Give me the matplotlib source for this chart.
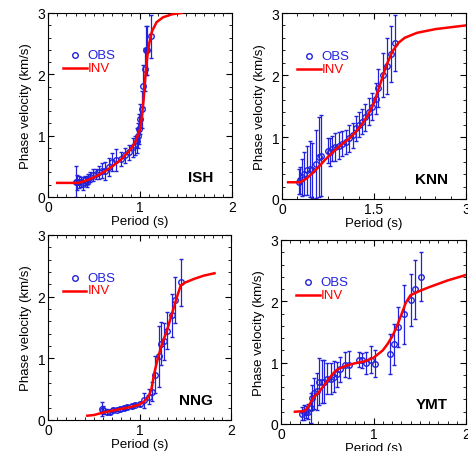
import numpy as np
import matplotlib as mpl
mpl.use('Agg')
import matplotlib.pyplot as plt
from matplotlib.ticker import MultipleLocator

plt.rcParams['font.family'] = ['Liberation Sans', 'DejaVu Sans']

# ISH
ish_obs_x = [0.30, 0.32, 0.34, 0.36, 0.38, 0.40, 0.42, 0.44, 0.46, 0.49, 0.52, 0.55, 0.59, 0.62,
             0.66, 0.70, 0.735, 0.79, 0.84, 0.88, 0.92, 0.95, 0.97, 0.98, 0.99, 1.005, 1.025,
             1.036, 1.05, 1.06, 1.08, 1.115]
ish_obs_y = [0.25, 0.24, 0.25, 0.24, 0.22, 0.27, 0.25, 0.30, 0.33, 0.36, 0.38, 0.40, 0.43, 0.42,
             0.49, 0.57, 0.60, 0.62, 0.68, 0.73, 0.81, 0.84, 0.92, 1.00, 1.11, 1.27, 1.43,
             1.81, 2.08, 2.39, 2.39, 2.62]
ish_obs_e = [0.25, 0.12, 0.10, 0.08, 0.10, 0.08, 0.08, 0.08, 0.08, 0.10, 0.08, 0.10, 0.12, 0.15,
             0.15, 0.15, 0.18, 0.12, 0.12, 0.12, 0.15, 0.15, 0.20, 0.20, 0.25, 0.25, 0.30,
             0.35, 0.35, 0.40, 0.40, 0.35]
ish_inv_x = [0.1, 0.33, 0.4, 0.5, 0.6, 0.7, 0.8, 0.9, 0.95, 1.0, 1.02, 1.04, 1.06, 1.08, 1.1,
             1.13, 1.18, 1.25, 1.35, 1.45]
ish_inv_y = [0.23, 0.23, 0.26, 0.32, 0.40, 0.50, 0.62, 0.78, 0.90, 1.10, 1.30, 1.60, 2.00, 2.30,
             2.50, 2.70, 2.85, 2.93, 2.98, 3.00]

# KNN
knn_obs_x = [0.27, 0.30, 0.33, 0.355, 0.41, 0.46, 0.49, 0.55, 0.60, 0.64, 0.75, 0.79, 0.82, 0.87,
             0.93, 0.98, 1.04, 1.09, 1.15, 1.20, 1.25, 1.31, 1.36, 1.42, 1.47, 1.53, 1.57,
             1.64, 1.71, 1.77, 1.85]
knn_obs_y = [0.28, 0.30, 0.35, 0.41, 0.46, 0.49, 0.46, 0.57, 0.68, 0.70, 0.78, 0.76, 0.81, 0.84,
             0.86, 0.89, 0.92, 0.98, 1.03, 1.14, 1.20, 1.25, 1.32, 1.41, 1.49, 1.62, 1.79,
             2.00, 2.15, 2.34, 2.51]
knn_obs_e = [0.20, 0.22, 0.30, 0.35, 0.40, 0.45, 0.45, 0.55, 0.65, 0.65, 0.20, 0.22, 0.20, 0.22,
             0.22, 0.20, 0.20, 0.22, 0.20, 0.20, 0.20, 0.20, 0.22, 0.22, 0.22, 0.25, 0.30,
             0.35, 0.45, 0.45, 0.45]
knn_inv_x = [0.1, 0.3, 0.4, 0.5, 0.6, 0.7, 0.8, 0.9, 1.0, 1.1, 1.2, 1.3, 1.4, 1.5, 1.55, 1.6,
             1.7, 1.8, 1.9, 2.0, 2.2, 2.5, 3.0]
knn_inv_y = [0.27, 0.27, 0.33, 0.42, 0.52, 0.63, 0.73, 0.82, 0.90, 0.98, 1.08, 1.20, 1.35, 1.55,
             1.70, 1.85, 2.15, 2.38, 2.52, 2.60, 2.68, 2.74, 2.80]

# NNG
nng_obs_x = [0.59, 0.605, 0.64, 0.68, 0.715, 0.75, 0.79, 0.83, 0.86, 0.92, 0.95, 1.0, 1.05, 1.10,
             1.14, 1.17, 1.21, 1.24, 1.27, 1.30, 1.35, 1.39, 1.45]
nng_obs_y = [0.18, 0.16, 0.135, 0.135, 0.16, 0.17, 0.18, 0.19, 0.21, 0.23, 0.25, 0.26, 0.32, 0.38,
             0.46, 0.73, 1.03, 1.24, 1.28, 1.45, 1.70, 1.95, 2.23]
nng_obs_e = [0.12, 0.06, 0.04, 0.03, 0.03, 0.03, 0.03, 0.03, 0.03, 0.03, 0.03, 0.04, 0.12, 0.12,
             0.15, 0.30, 0.50, 0.35, 0.30, 0.30, 0.35, 0.37, 0.38]
nng_inv_x = [0.43, 0.5, 0.6, 0.7, 0.8, 0.9, 1.0, 1.05, 1.1, 1.13, 1.16, 1.2, 1.25, 1.3, 1.35,
             1.4, 1.45, 1.5, 1.6, 1.7, 1.82]
nng_inv_y = [0.07, 0.08, 0.12, 0.15, 0.18, 0.21, 0.25, 0.30, 0.38, 0.50, 0.75, 1.00, 1.25, 1.45,
             1.70, 1.95, 2.18, 2.23, 2.29, 2.34, 2.38]

# YMT
ymt_obs_x = [0.23, 0.25, 0.27, 0.29, 0.32, 0.33, 0.36, 0.39, 0.41, 0.44, 0.47, 0.50, 0.54, 0.57,
             0.60, 0.64, 0.69, 0.74, 0.84, 0.88, 0.92, 0.97, 1.02, 1.18, 1.22, 1.27, 1.33,
             1.40, 1.45, 1.51]
ymt_obs_y = [0.17, 0.19, 0.20, 0.20, 0.26, 0.43, 0.50, 0.53, 0.69, 0.69, 0.69, 0.74, 0.74, 0.77,
             0.81, 0.89, 0.97, 0.97, 1.05, 1.04, 1.00, 1.05, 0.98, 1.14, 1.30, 1.58, 1.79,
             2.02, 2.20, 2.40]
ymt_obs_e = [0.10, 0.12, 0.10, 0.12, 0.25, 0.20, 0.25, 0.30, 0.38, 0.35, 0.35, 0.25, 0.25, 0.25,
             0.20, 0.20, 0.20, 0.22, 0.12, 0.12, 0.18, 0.22, 0.22, 0.33, 0.33, 0.33, 0.48,
             0.42, 0.48, 0.40]
ymt_inv_x = [0.15, 0.25, 0.28, 0.32, 0.36, 0.4, 0.45, 0.5, 0.55, 0.6, 0.7, 0.8, 0.9, 1.0, 1.1,
             1.15, 1.2, 1.25, 1.3, 1.35, 1.4, 1.5, 1.6, 1.8, 2.0]
ymt_inv_y = [0.20, 0.21, 0.25, 0.35, 0.45, 0.50, 0.60, 0.70, 0.80, 0.88, 0.95, 0.99, 1.02, 1.08,
             1.20, 1.30, 1.42, 1.58, 1.78, 1.98, 2.10, 2.17, 2.23, 2.34, 2.43]

BLUE = '#2222dd'
RED = '#ff0000'

fig = plt.figure(figsize=(4.68, 4.52), dpi=100)
W, H = 468.0, 452.0


def panel(box, ox, oy, oe, ix, iy, name, xmax, xmajor, xminor):
    l, t, r, b = box
    ax = fig.add_axes([l / W, 1 - b / H, (r - l) / W, (b - t) / H])
    ax.errorbar(ox, oy, yerr=oe, fmt='o', mfc='none', mec=BLUE, ecolor=BLUE,
                ms=4, mew=1.0, elinewidth=0.9, capsize=1.5, capthick=0.9, zorder=2)
    ax.plot(ix, iy, color=RED, lw=1.8, zorder=3)
    ax.set_xlim(0, xmax)
    ax.set_ylim(0, 3)
    ax.xaxis.set_major_locator(MultipleLocator(xmajor))
    ax.xaxis.set_minor_locator(MultipleLocator(xminor))
    ax.yaxis.set_major_locator(MultipleLocator(1))
    ax.yaxis.set_minor_locator(MultipleLocator(0.2))
    ax.xaxis.set_major_formatter(mpl.ticker.FuncFormatter(lambda v, p: ('%g' % v)))
    ax.tick_params(which='both', direction='in', top=True, right=True, labelsize=10, pad=2)
    ax.tick_params(which='major', length=4)
    ax.tick_params(which='minor', length=2)
    ax.set_xlabel('Period (s)', fontsize=9.5, labelpad=1)
    ax.set_ylabel('Phase velocity (km/s)', fontsize=9.5, labelpad=4)
    # legend drawn by hand
    ax.plot([0.145], [0.77], 'o', mfc='none', mec=BLUE, ms=4, mew=1.0, transform=ax.transAxes)
    ax.text(0.215, 0.77, 'OBS', color=BLUE, fontsize=9.5, va='center', transform=ax.transAxes)
    ax.plot([0.08, 0.21], [0.70, 0.70], color=RED, lw=1.8, transform=ax.transAxes)
    ax.text(0.215, 0.70, 'INV', color=RED, fontsize=9.5, va='center', transform=ax.transAxes)
    ax.text(0.90, 0.11, name, fontsize=11, fontweight='bold', ha='right', va='center',
            transform=ax.transAxes)
    return ax


panel((48, 14, 232, 198), ish_obs_x, ish_obs_y, ish_obs_e, ish_inv_x, ish_inv_y, 'ISH', 2, 1, 0.1)
panel((282, 14, 466, 200), knn_obs_x, knn_obs_y, knn_obs_e, knn_inv_x, knn_inv_y, 'KNN', 3, 1.5, 0.25)
panel((48, 236, 231, 421), nng_obs_x, nng_obs_y, nng_obs_e, nng_inv_x, nng_inv_y, 'NNG', 2, 1, 0.1)
panel((281, 241, 466, 425), ymt_obs_x, ymt_obs_y, ymt_obs_e, ymt_inv_x, ymt_inv_y, 'YMT', 2, 1, 0.1)

fig.savefig('out.png', dpi=100)
